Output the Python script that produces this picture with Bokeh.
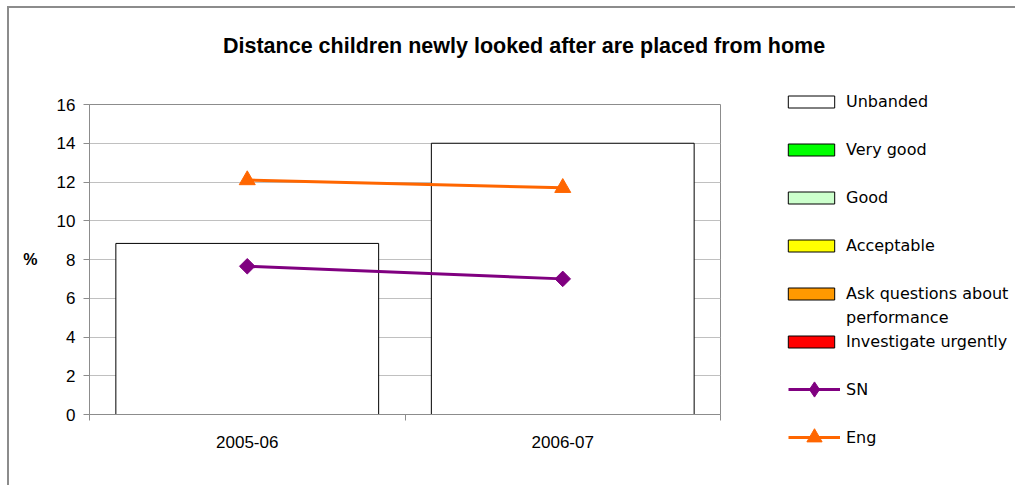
import math
from bokeh.plotting import figure
from bokeh.models import Range1d, FixedTicker, Legend, LegendItem, Div
from bokeh.layouts import column, row
from bokeh.embed import file_html
from bokeh.resources import INLINE

title_text = "Distance children newly looked after are placed from home"
categories = ["2005-06", "2006-07"]
unbanded = [8.83, 14.0]
sn = [7.65, 7.0]
eng = [12.1, 11.7]
y_ticks = [0, 2, 4, 6, 8, 10, 12, 14, 16]
band_names = ["Very good", "Good", "Acceptable", "Ask questions about", "Investigate urgently"]
band_colors = ["#00FF00", "#CCFFCC", "#FFFF00", "#FF9900", "#FF0000"]
sn_color = "#800080"
eng_color = "#FF6600"

xs = [i + 0.5 for i in range(len(categories))]
n = len(categories)
nan = float("nan")

# ---------- title ----------
title_div = Div(
    text=('<div style="margin-left:214px;padding-top:26px;font-family:\'Liberation Sans\';'
          'font-size:21.5px;font-weight:bold;white-space:nowrap;color:#000000;line-height:normal">'
          + title_text + '</div>'),
    width=1006, height=80, margin=0)

# ---------- main plot ----------
p = figure(width=751, height=397, output_backend="svg", toolbar_location=None,
           x_range=Range1d(0, n), y_range=Range1d(0, 16),
           min_border_left=80, min_border_right=40, min_border_top=16, min_border_bottom=71)
p.frame_align = False
p.outline_line_color = "#8c8c8c"
p.background_fill_color = "#ffffff"
p.border_fill_color = "#ffffff"

p.xaxis.ticker = FixedTicker(ticks=xs, minor_ticks=list(range(n + 1)))
p.xaxis.major_label_overrides = {x: c for x, c in zip(xs, categories)}
p.xaxis.major_tick_out = 0
p.xaxis.major_tick_in = 0
p.xaxis.minor_tick_out = 6
p.xaxis.minor_tick_in = 0
p.xaxis.minor_tick_line_color = "#8c8c8c"
p.xaxis.axis_line_color = "#8c8c8c"
p.xaxis.major_label_standoff = 15
p.xaxis.major_label_text_font = "Liberation Sans"
p.xaxis.major_label_text_font_size = "17px"
p.xaxis.major_label_text_color = "#000000"
p.xgrid.visible = False

p.yaxis.ticker = FixedTicker(ticks=y_ticks)
p.yaxis.major_tick_out = 6
p.yaxis.major_tick_in = 0
p.yaxis.minor_tick_line_color = None
p.yaxis.major_tick_line_color = "#8c8c8c"
p.yaxis.axis_line_color = "#8c8c8c"
p.yaxis.major_label_standoff = 8
p.yaxis.major_label_text_font = "Liberation Sans"
p.yaxis.major_label_text_font_size = "17px"
p.yaxis.major_label_text_color = "#000000"
p.yaxis.axis_label = "%"
p.yaxis.axis_label_orientation = "horizontal"
p.yaxis.axis_label_standoff = 16
p.yaxis.axis_label_text_font = "Liberation Sans"
p.yaxis.axis_label_text_font_size = "16px"
p.yaxis.axis_label_text_font_style = "bold"
p.yaxis.axis_label_text_color = "#000000"
p.ygrid.ticker = FixedTicker(ticks=y_ticks)
p.ygrid.grid_line_color = "#c0c0c0"

p.vbar(x=xs, top=unbanded, width=0.833, fill_color="#ffffff", line_color="#000000", line_width=1)
p.line(xs, sn, line_color=sn_color, line_width=3)
p.scatter(xs, sn, marker="square", angle=math.pi / 4, size=11, fill_color=sn_color, line_color=sn_color)
p.line(xs, eng, line_color=eng_color, line_width=3)
p.scatter(xs, eng, marker="triangle", size=16, fill_color=eng_color, line_color=eng_color)

# ---------- legend panel ----------
q = figure(width=255, height=397, output_backend="svg", toolbar_location=None,
           x_range=Range1d(0, 1), y_range=Range1d(0, 1), x_axis_type=None, y_axis_type=None,
           min_border_left=0, min_border_right=0, min_border_top=0, min_border_bottom=0)
q.frame_align = False
q.outline_line_color = None
q.xgrid.visible = False
q.ygrid.visible = False
q.background_fill_color = "#ffffff"
q.border_fill_color = "#ffffff"

k_unb = q.vbar(x=[nan], top=[nan], width=0.5, fill_color="#ffffff", line_color="#000000")
k_bands = [q.vbar(x=[nan], top=[nan], width=0.5, fill_color=c, line_color="#000000") for c in band_colors]
k_blank = q.scatter(x=[nan], y=[nan], alpha=0)
k_sn_l = q.line([nan, nan], [nan, nan], line_color=sn_color, line_width=3)
k_sn_m = q.scatter([nan], [nan], marker="diamond", fill_color=sn_color, line_color=sn_color)
k_eng_l = q.line([nan, nan], [nan, nan], line_color=eng_color, line_width=3)
k_eng_m = q.scatter([nan], [nan], marker="triangle", fill_color=eng_color, line_color=eng_color)

items_a = [
    LegendItem(label="Unbanded", renderers=[k_unb]),
    LegendItem(label=" ", renderers=[k_blank]),
    LegendItem(label=band_names[0], renderers=[k_bands[0]]),
    LegendItem(label=" ", renderers=[k_blank]),
    LegendItem(label=band_names[1], renderers=[k_bands[1]]),
    LegendItem(label=" ", renderers=[k_blank]),
    LegendItem(label=band_names[2], renderers=[k_bands[2]]),
    LegendItem(label=" ", renderers=[k_blank]),
    LegendItem(label=band_names[3], renderers=[k_bands[3]]),
    LegendItem(label="performance", renderers=[k_blank]),
    LegendItem(label=band_names[4], renderers=[k_bands[4]]),
]
items_b = [
    LegendItem(label="SN", renderers=[k_sn_l, k_sn_m]),
    LegendItem(label="Eng", renderers=[k_eng_l, k_eng_m]),
]
common = dict(padding=0, margin=0, border_line_alpha=0, background_fill_alpha=0,
              label_standoff=6, label_text_font="DejaVu Sans", label_text_font_size="16px",
              label_text_color="#000000")
leg_a = Legend(items=items_a, location=(22, 134), glyph_width=58, glyph_height=15,
               label_height=20, spacing=4, **common)
leg_b = Legend(items=items_b, location=(28, 29), glyph_width=52, glyph_height=38,
               label_height=38, spacing=10, **common)
q.add_layout(leg_a, "center")
q.add_layout(leg_b, "center")

layout = column(title_div, row(p, q, spacing=0), spacing=0)
layout.styles = {"border-top": "2px solid #8c8c8c", "border-left": "2px solid #8c8c8c",
                 "margin-left": "7px", "margin-top": "6px"}

open("out.html", "w").write(file_html(layout, INLINE))
